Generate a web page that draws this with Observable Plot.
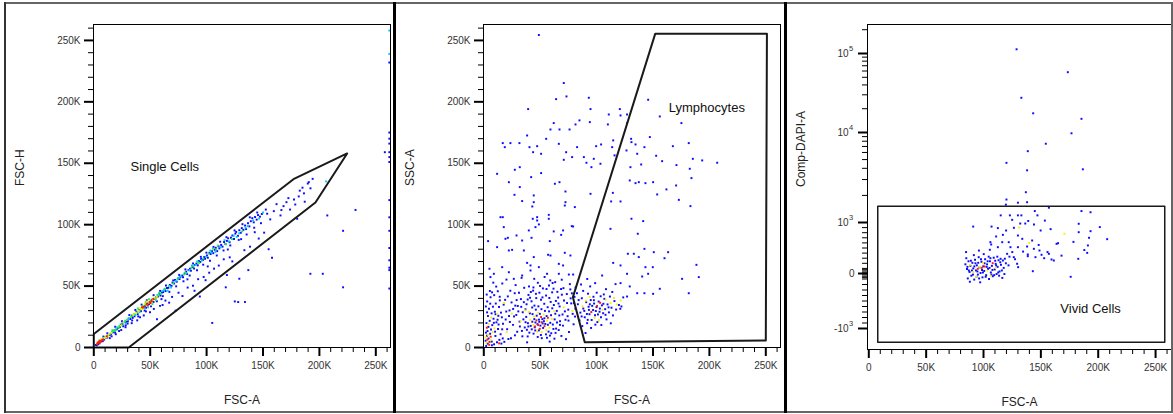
<!DOCTYPE html>
<html><head><meta charset="utf-8">
<script src="https://cdn.jsdelivr.net/npm/d3@7"></script>
<script src="https://cdn.jsdelivr.net/npm/@observablehq/plot@0.6"></script>
<style>
body{margin:0;background:#fff;}
#wrap{position:relative;width:1173px;height:414px;overflow:hidden;font-family:"Liberation Sans",Arial,sans-serif;background:#fff;}
.panel{position:absolute;top:0;width:393px;height:414px;}
.ln{position:absolute;}
</style></head><body><div id="wrap"></div>
<script>
// ---------- tick definitions ----------
const kMajor = [0, 50, 100, 150, 200, 250];
const kLabels = ["0", "50K", "100K", "150K", "200K", "250K"];
const kMinor = [10,20,30,40,60,70,80,90,110,120,130,140,160,170,180,190,210,220,230,240,260];
const dapiMajor = [-1000, 0, 1000, 10000, 100000];
const dapiBase = ["-10", "0", "10", "10", "10"];
const dapiExp = ["3", "", "3", "4", "5"];
const dapiMinor = [-900,-800,-700,-600,-500,-400,-300,-200,-100,-75,-50,-25,25,50,75,100,200,300,400,500,600,700,800,900,
  2000,3000,4000,5000,6000,7000,8000,9000,20000,30000,40000,50000,60000,70000,80000,90000,200000];

// ---------- panel 1 : FSC-A (K) vs FSC-H (K) ----------
const p1Blue = [[1.8,2.1],[2.6,1.7],[3.9,2.6],[5.1,3.4],[6.8,5.6],[7.9,5.1],[9.2,6.4],[10.4,7.9],[11.9,8.1],[12.8,9.9],[14.1,10.1],[15.2,10.9],[16.9,12.3],[18.3,13.9],[18.9,12.1],[20.4,14.8],[21.6,15.9],[23.2,16.8],[23.9,18.6],[25.4,19.1],[26.1,17.3],[27.3,20.6],[28.8,20.9],[30.2,21.4],[30.9,23.6],[32.4,23.2],[33.8,25.9],[34.5,24.1],[36.1,25.4],[37.8,29.2],[38.9,27.1],[40.1,30.4],[41.8,29.6],[42.9,32.8],[44.0,31.9],[45.2,33.8],[46.3,32.4],[47.4,36.2],[48.9,35.3],[50.0,36.4],[51.7,38.9],[52.9,37.1],[54.1,39.8],[55.3,40.9],[56.9,41.4],[58.2,43.9],[59.1,42.3],[60.4,44.8],[61.5,45.1],[62.8,47.3],[63.6,45.9],[64.9,48.4],[66.1,48.6],[67.4,50.9],[68.9,50.2],[69.8,52.8],[71.2,52.1],[72.0,54.9],[73.5,53.6],[74.9,56.3],[76.0,55.7],[76.8,57.6],[78.3,58.5],[79.1,57.2],[80.6,60.3],[81.9,61.7],[82.7,59.8],[84.0,63.1],[85.3,64.2],[86.1,62.5],[87.5,65.4],[88.9,64.3],[89.6,67.2],[91.0,68.3],[92.2,66.9],[93.1,70.4],[94.4,69.6],[95.2,72.1],[96.7,71.3],[97.9,73.6],[98.6,72.2],[100.3,74.9],[101.1,73.1],[102.5,77.1],[103.6,76.1],[104.8,78.3],[105.9,76.8],[107.2,79.6],[108.1,81.2],[109.4,78.5],[110.6,82.4],[111.3,80.7],[112.9,83.5],[114.1,82.1],[115.5,85.9],[116.7,84.2],[118.0,86.8],[119.1,88.9],[120.4,85.7],[121.6,89.4],[122.9,91.2],[124.3,88.4],[125.5,92.7],[126.2,94.1],[127.8,90.9],[129.0,95.5],[130.3,93.4],[131.2,97.2],[132.6,95.8],[134.1,99.3],[135.0,96.4],[136.7,101.1],[137.9,98.6],[139.2,102.8],[140.5,105.3],[141.8,101.9],[143.0,106.2],[144.4,104.1],[145.6,107.8],[147.3,106.5],[149.0,108.7],[153.7,108.9],[159.6,111.0],[165.5,107.5],[170.8,118.3],[174.0,112.3],[181.7,123.0],[182.6,127.7],[186.3,125.5],[187.0,118.7],[189.7,133.5],[194.0,137.3],[190.6,134.6],[177.5,120.5],[168.2,115.1],
  [8.5,8.9],[12.0,11.6],[15.8,9.1],[19.0,16.9],[22.4,13.4],[25.0,21.3],[28.3,18.1],[31.5,26.4],[34.0,22.0],[36.8,30.6],[39.4,25.3],[42.4,34.9],[45.0,30.1],[47.0,38.4],[50.7,33.5],[53.0,42.6],[55.9,37.6],[58.8,46.1],[61.2,41.8],[64.0,50.5],[67.0,45.3],[70.4,54.6],[73.0,49.8],[75.7,59.1],[79.5,53.9],[81.2,63.6],[85.0,58.6],[88.0,68.4],[91.5,62.9],[94.9,73.8],[97.0,67.4],[99.8,77.2],[103.0,70.6],[106.1,81.9],[109.0,74.9],[112.0,86.1],[115.0,79.0],[117.6,89.8],[121.0,83.1],[124.8,95.3],[128.5,87.6],[131.8,100.4],[135.5,92.0],[138.3,106.0],[142.2,97.5],[144.9,109.9],[148.2,101.2],[152.5,112.3],[156.4,104.3],[162.0,116.7],[166.3,111.9],[172.5,121.6],[178.6,116.4],[185.0,130.1],[192.1,129.6],[60.0,39.4],[83.0,55.5],[101.0,66.0],[118.8,79.8],[130.6,88.2],[142.7,93.9],[46.2,29.4],[30.0,19.5],
  [14.2,7.6],[19.5,10.8],[24.3,14.2],[28.1,16.5],[33.6,19.8],[38.5,22.1],[41.0,24.6],[44.3,26.1],[49.8,28.7],[53.2,31.4],[56.0,23.0],[58.7,33.9],[61.0,34.6],[63.5,38.2],[66.8,36.5],[69.4,41.2],[72.5,30.0],[75.1,44.6],[78.6,41.9],[83.2,48.8],[87.9,50.3],[92.5,55.6],[94.0,41.5],[97.4,57.4],[102.3,60.9],[105.0,20.0],[106.6,64.2],[110.8,66.7],[115.2,71.8],[117.0,49.0],[118.0,59.0],[120.5,73.4],[125.0,37.5],[128.0,37.0],[129.0,56.0],[133.5,79.2],[134.0,37.0],[137.0,63.0],[138.5,82.1],[146.2,88.7],[151.0,93.5],[155.0,80.0],[158.0,73.0],[180.3,104.8],[122.8,70.1],[89.3,46.2],[99.1,54.8],
  [192,60],[203,60],[207,107.5],[221,95],[221,49],[232,112],[258,159],[262,175],[262,170],[262,166],[262,159],[262,155],[262,151],[262,120],[262,106],[262,95],[262,81],[262,71],[262,65],[262,63],[262,48],[262,232]];
const p1Cyan = [[16.2,12.7],[20.8,16.4],[31.2,23.5],[36.7,26.5],[40.6,28.9],[48.1,32.7],[56.4,42.8],[62.3,46.7],[68.5,48.8],[72.6,54.1],[77.3,57.9],[84.6,62.8],[90.2,67.1],[95.8,70.9],[99.4,73.8],[104.3,77.2],[112.5,81.6],[119.8,86.4],[126.7,90.1],[136.4,98.9],[141.2,103.5],[206.0,135.2],[262,258],[262,239],
  [10.0,8.6],[25.6,20.2],[28.4,19.6],[44.9,32.3],[60.8,46.0],[65.5,46.3],[75.5,56.8],[82.2,60.4],[87.0,66.8],[91.8,70.1],[103.3,78.9],[107.8,77.8],[115.9,87.4],[124.0,90.9],[128.9,93.0],[134.5,97.6],[146.5,105.0],[150.0,109.9]];
const p1Green = [[12.3,9.8],[14.6,11.2],[17.8,13.4],[19.9,15.3],[22.7,17.6],[24.8,18.2],[29.5,22.6],[33.1,24.8],[35.6,27.2],[38.4,28.6],[41.3,30.8],[45.7,34.6],[50.5,38.2],[54.8,40.1],[57.2,42.4],[59.5,43.8],[66.8,50.1],[70.5,52.2],[74.2,55.6],[79.8,59.4],[88.4,66.2],[93.5,68.8],[97.1,72.5],[101.8,76.4],[108.6,79.9],[117.2,84.1],[122.5,88.3],[131.6,94.6],[22.1,16.1],[27.8,21.7],
  [43.0,33.9],[46.0,36.9],[49.0,39.3],[52.0,35.4],[55.0,38.6],[58.0,44.6],[34.2,26.3],[39.0,31.8],[63.0,47.9],[81.0,61.0],[86.5,64.9],[92.0,69.6],[105.5,80.5],[110.0,83.0],[5.0,5.9],[8.8,7.9],[16.5,14.1],[19.2,14.0]];
const p1Yellow = [[2.8,3.5],[9.5,7.6],[10.8,8.3],[13.2,10.5],[15.6,11.9],[39.8,29.9],[42.1,31.6],[43.7,31.0],[48.6,36.6],[52.4,38.8],[53.6,40.3],[55.8,41.2],[37.2,28.1],[26.5,20.4],
  [45.3,35.6],[50.9,35.8],[47.2,37.4],[41.0,32.2],[6.9,6.9],[12.6,9.0],[35.0,26.8],[24.0,17.9]];
const p1Red = [[3.5,4.2],[4.5,3.8],[5.5,5.1],[6.2,4.6],[7.4,6.0],[8.1,6.5],[4.8,4.9],[44.5,33.2],[46.8,35.1],[49.5,37.0],[51.2,37.8],[47.9,34.3],[11.5,9.2],
  [43.1,32.7],[50.3,36.2],[6.6,5.5],[3.0,2.9],[52.8,39.5]];
const p1Gate = [[0,11],[177,137],[224.6,158],[196.5,118],[31,0],[0,0],[0,11]];
const p1Label = [32.5, 147, "Single Cells"];

// ---------- panel 2 : FSC-A (K) vs SSC-A (K) ----------
const p2Blue = [[48.8,254.4],[70.9,215.3],[73.3,204.4],[64.1,202.2],[93.1,203.3],[94.6,194.1],[39.3,194.1],[84.8,184.9],[81.3,181.6],[94,183.5],[62,182.7],[59.1,177.5],[67.1,177.5],[76,177.5],[110.8,189.7],[120.6,194.1],[121.2,188.9],[127,189.7],[110,181.6],[127,182.7],[145.7,201.7],[156,188.1],[175.2,182.7],[147.2,171.3],[130.6,169.9],[130.9,167.2],[134.5,165.3],[136,157.7],[126.5,160.4],[142.4,163.1],[167.6,163.9],[181.7,166.4],[185.3,153.6],[193.6,152.3],[206.9,150.4],[158.1,151.7],[152.8,156.1],[170.8,148.5],[182.6,145.5],[184.1,137.9],[139.5,149],[130,146.8],[137.4,134.6],[134.5,133.8],[129.4,136],[143.3,133.8],[150.1,134.6],[170.5,131.9],[161.9,128.7],[153.7,124.6],[172.9,120.2],[183.2,115.1],[121.2,118.9],[114.4,125.9],[112.9,118.9],[112.3,96.6],[130.9,104.8],[141.3,102.9],[136.5,92.6],[142.4,80.3],[133,76.3],[127.7,76.3],[137.4,73.6],[150.7,77.6],[163.4,77.6],[160.2,72.7],[188.5,67.3],[190.6,57.3],[175.8,55.9],[181.7,44.2],[143.3,65.4],[149.8,65.4],[145.7,60],[127,60],[121.2,66.8],[114.7,68.9],[104.9,58.6],[140.4,57.8],[129.4,49.7],[121.2,52.4],[136,44.2],[142.4,44.2],[150.1,43.7],[156,47.8],[127,41.5],[122,33.4],
  [3.8,86.6],[14.8,106.1],[16.8,106.1],[17.7,98],[19.2,88.5],[21.3,89.3],[29,91.2],[22.2,79],[25.1,79.5],[39.9,95.3],[42.3,89.3],[45.8,98],[47.3,106.1],[57.6,104.8],[68.6,91.7],[78,98.8],[62,94.5],[58.5,86.6],[71.8,77.1],[76.8,74.9],[59.1,74.9],[57,75.5],[66.5,68.1],[70.3,66.8],[35.5,79],[38.4,68.9],[41.4,66.8],[44.3,73.6],[34,87.1],[11.8,81.7],[5,64.1],[5.9,57.3],[8.9,60],[16.3,65.4],[22.2,61.3],[26.6,55.9],[34,58.6],[41.4,62.7],[48.8,65.4],[56.1,60],[66.5,60],[75.4,59.4],[79.2,59.4],[11.8,141.4],[16.8,166.4],[18.6,163.1],[23.6,166.4],[31.6,166.4],[38.4,172.6],[40.5,163.1],[47.3,163.9],[43.7,159],[50.8,157.7],[55.3,169.9],[66.5,165.8],[70.9,152.8],[78.3,155],[73,159],[82.7,163.1],[67.1,134.6],[63,133.3],[50.8,142],[42,138.7],[31.9,146.8],[27.5,144.7],[22.2,134.6],[31.9,130.6],[27.2,124.3],[34,119.2],[44.3,123.8],[44.3,118.3],[43,114.8],[43.4,104.8],[48.8,100.2],[47.3,103.4],[57.6,108],[72.4,127],[72.4,118.3],[71.8,115.6],[80.7,114.3],[79.2,98.5],[70.3,95.3],[91,150.4],[88.7,155],[97.5,153.6],[94.6,125.1],[95.4,146.8],[103.4,149.6],[104,165.3],[99.6,163.9],[113.8,163.1],[114.7,168.6],[115.9,156.4],
  [2.1,1.2],[3.4,3.1],[1.6,5.5],[4.2,7.3],[2.8,9.6],[5.6,11.2],[3.3,13.4],[6.4,14.6],[4.1,16.8],[7.5,18.2],[2.4,19.9],[5.2,21.7],[8.6,23.4],[3.7,25.6],[6.9,27.8],[9.8,29.1],[4.6,31.5],[8.1,33.2],[11.2,20.5],[12.6,15.1],[10.3,9.4],[13.8,6.2],[9.1,2.6],[11.7,4.3],[14.9,10.8],[7.2,1.8],[1.9,12.1],[15.6,3.2],[16.8,7.4],[12.9,25.8],[10.6,35.8],[3.0,37.5],[6.0,40.9],[14.2,38.4],[5.4,46.0],[2.6,43.1],
  [42.5,14.8],[44.1,11.3],[45.8,20.4],[46.9,25.9],[47.6,19.0],[48.9,22.7],[49.7,27.4],[50.2,17.8],[51.9,23.1],[52.6,15.9],[53.3,21.4],[54.5,19.2],[55.7,25.6],[56.8,18.5],[57.4,12.9],[58.9,20.1],[59.6,26.3],[61.2,18.7],[62.8,22.9],[64.1,15.4],[43.2,27.2],[41.6,17.6],[40.4,12.1],[46.1,30.8],[48.4,33.5],[51.1,31.2],[54.2,29.8],[50.6,10.2],[47.8,8.6],[45.1,16.4],[49.2,20.9],[52.2,19.6],[44.8,23.1],[53.7,23.8],[57.9,29.4],[60.7,31.9],[63.4,27.5],[39.1,19.8],[37.6,24.9],[42.9,32.6],[48.8,13.9],[55.1,10.7],
  [15.2,28.4],[17.6,34.9],[19.4,22.8],[21.3,41.6],[22.8,30.2],[24.6,36.7],[25.9,18.4],[27.4,44.2],[28.8,26.5],[30.1,33.8],[31.7,21.1],[32.9,39.4],[34.5,28.7],[35.8,48.6],[36.3,16.3],[37.9,35.2],[39.6,42.8],[40.8,27.8],[42.3,37.6],[43.7,46.3],[44.9,34.1],[46.5,40.2],[47.9,52.7],[49.3,44.6],[50.7,38.9],[52.4,48.1],[53.6,35.6],[55.2,42.3],[56.6,32.8],[57.8,50.4],[59.3,37.1],[60.6,44.9],[62.1,34.6],[63.3,53.2],[64.7,29.8],[65.9,40.7],[67.2,33.4],[68.5,47.6],[69.8,26.9],[71.1,38.3],[72.4,22.6],[73.6,43.5],[74.9,30.8],[76.3,51.6],[77.5,35.9],[78.8,27.4],[79.6,18.9],[80.4,41.2],[81.2,31.6],[66.4,14.2],[70.2,17.8],[75.5,12.6],[68.8,9.4],[62.6,7.2],[58.4,4.8],[34.2,9.1],[29.6,12.8],[24.1,7.5],[20.7,14.9],[18.2,4.6],[26.8,25.3],[38.4,4.2],[72.9,6.8],[16.4,52.1],[12.4,45.8],[20.1,55.3],[28.2,50.8],[33.5,56.7],[44.7,55.9],[53.9,57.4],[61.8,47.9],[69.1,55.2],[76.7,47.3],[23.5,46.2],[11.0,49.6],[8.4,52.8],[9.2,42.6],[13.5,33.0],[18.9,38.8],[31.2,44.6],[36.9,31.1],[40.1,49.7],[67.6,21.4],[73.8,36.2],[78.1,44.1],[65.2,45.3],[58.9,54.6],[35.1,22.9],[27.9,34.1],[22.4,25.6],[17.0,19.3],[14.1,41.3],
  [7.0,4.8],[10.0,12.9],[13.1,18.7],[16.0,24.6],[19.9,29.3],[23.1,20.8],[26.0,31.4],[29.1,38.6],[32.0,17.1],[35.5,36.9],[38.2,14.4],[41.0,40.5],[44.0,48.9],[46.2,43.7],[49.9,50.1],[52.0,40.8],[55.6,47.6],[58.1,40.3],[61.0,52.5],[63.9,37.9],[66.9,26.1],[69.2,43.0],[71.9,29.4],[74.3,25.5],[77.0,40.0],[79.9,36.1],[56.0,7.9],[59.8,11.6],[63.6,11.9],[67.5,18.4],[38.9,9.0],[33.8,13.5],[27.6,9.9],[21.8,6.9],[16.3,14.8],[12.2,22.6],[8.9,20.1],[2.9,28.6],[1.8,33.4],[5.7,35.7],[7.3,44.9],[10.4,27.1],[30.6,29.4],[33.2,33.1],[38.9,39.1],[41.7,45.2],[43.0,21.0],[39.5,17.1],[37.0,20.6],[45.6,13.9],[51.4,7.6],[58.6,9.7],[61.7,15.1],[64.9,20.4],[66.2,35.8],[70.6,48.3],[75.1,21.9],[80.9,25.2],
  [83.4,35.2],[85.6,28.4],[86.9,40.1],[88.2,31.7],[89.5,24.6],[90.8,36.9],[91.6,19.8],[92.9,33.2],[93.7,27.1],[94.8,38.6],[95.6,22.4],[96.9,30.5],[97.8,35.8],[98.6,26.3],[99.9,32.9],[100.7,20.7],[101.8,37.4],[102.6,29.1],[103.9,24.6],[104.7,34.3],[105.8,27.9],[106.9,39.6],[107.6,31.2],[108.8,22.9],[109.7,35.1],[110.9,28.6],[111.8,41.5],[113.2,32.4],[114.5,26.1],[115.8,37.8],[117.3,30.9],[97.2,41.3],[100.1,44.6],[92.4,43.8],[88.1,46.1],[104.2,18.3],[95.1,15.9],[106.4,43.2],[112.6,19.7],[119.8,34.6],[121.0,31.5],[123.6,40.8],[99.3,29.7],[101.2,26.9],[96.1,33.9],[93.2,30.6],[84.8,22.1],[87.3,17.4],[90.2,11.8],[82.6,44.2],[81.4,48.9],[86.2,51.3],[94.3,49.7],[98.7,52.4],[108.3,47.5],[113.9,45.2],[116.8,51.6],[91.7,55.8],
  [84.1,38.6],[86.7,25.3],[89.1,29.8],[91.4,27.3],[98.9,18.6],[106.0,35.6],[110.6,32.7],[94.0,35.2],[97.6,38.5],[102.9,31.7],[107.9,26.6],[103.6,41.7],[92.1,22.5]];
const p2Yellow = [[2.2,3.9],[5.8,6.2],[3.6,10.3],[7.8,12.5],[4.3,19.2],[9.4,15.6],[6.6,24.4],[1.5,8.1],
  [44.6,25.3],[56.1,21.8],[51.3,12.4],[43.9,18.6],[58.2,16.2],[48.1,28.4],[53.1,26.9],[41.2,22.5],[47.3,12.8],[55.4,14.1],[39.8,29.0],[60.3,23.4],
  [90.4,38.1],[105.2,30.7],[112.4,36.2],[115.4,40.3],[98.2,24.1],[108.1,38.9],[87.6,33.6],[93.9,41.2],[102.2,22.3],[117.9,35.1],[121.4,38.3],
  [24.8,27.6],[32.6,21.3],[17.9,36.2],[36.2,30.4],[62.5,29.4],[70.8,32.7],[78.5,29.8],[20.3,12.6],[11.8,27.4]];
const p2Red = [[4.8,2.2],[3.1,6.4],[6.1,8.8],[5.0,4.5],[2.7,16.1],[48.2,18.3],[51.4,20.6],[46.7,22.1],[53.8,17.4],[49.6,15.2],[50.8,24.8],[45.5,17.1],[100.4,33.8],[95.3,28.9],[103.1,36.4],[13.6,3.4],[56.8,24.2]];
const p2Gate = [[89.5,4.3],[79,41],[152,255.5],[251,255.5],[250,5.7],[89.5,4.3]];
const p2Label = [164, 195, "Lymphocytes"];

// ---------- panel 3 : FSC-A (K) vs Comp-DAPI-A ----------
const p3Blue = [[128.8,113000],[173.5,58000],[133,27500],[143.3,17500],[185.4,14900],[176.7,9800],[154.3,7500],[138.6,6200],[186.6,3900],[120,4600],[138,3800],[136.9,2170],[120,1800],[138,1680],[130,1660],[119.5,1580],
  [157,1460],[144.7,1340],[185.4,1340],[193.3,1300],[123,1200],[130,1200],[133,1200],[115,1200],[147,1200],[125,1070],[153.5,1050],[139,1040],[91,920],[107,920],[112.5,890],[119.7,843],[126.5,896],[132,980],[136.4,980],[144,960],[149.8,843],[158.5,870],[183,810],[193.3,830],[183,975],[192,700],[191,550],[190.4,405],[182.6,288],[207.8,673],[130,745],[133.8,680],[142.4,647],[130,516],[138,529],[143.9,484],[148.8,451],[163.7,582],[165,594],[138.6,373],[138.6,339],[145.3,320],[150.6,367],[157,386],[159.3,275],[161.3,255],[143,45],[130.2,124],[129.3,190],[126.4,320],[120.6,386],[123.5,516],[122,614],[112.5,516],[111,726],[106.7,569],[105.5,465],[106,614],[116.9,758],[116.3,614],[114.9,288],[116.9,255],[176,-60],[96,450],[85,300],
  [84.2,180],[85.6,90],[86.9,240],[87.8,30],[88.6,150],[89.4,-40],[90.3,210],[91.1,100],[91.9,-110],[92.6,270],[93.4,60],[94.2,160],[95.1,-20],[95.8,320],[96.6,120],[97.4,10],[98.2,230],[99.1,-70],[99.8,140],[100.6,50],[101.4,280],[102.3,-30],[103.1,180],[103.9,90],[104.8,-100],[105.6,240],[106.4,20],[107.3,150],[108.1,-50],[108.9,310],[109.8,80],[110.6,190],[111.4,-10],[112.3,130],[113.1,260],[114.0,40],[115.2,170],[116.4,-80],[117.6,110],[88.1,-150],[91.6,360],[97.1,-160],[100.2,380],[104.5,330],[93.8,-60],[86.3,-90],[95.4,210],[98.7,70],[102.8,130],[106.9,-20],[110.2,250],[89.9,60],[113.6,-40],[84.8,420],[119.5,200],[121.8,160],
  [86.0,130],[87.2,60],[89.0,250],[90.8,-20],[92.0,140],[93.0,200],[94.7,40],[96.2,-90],[97.8,280],[99.5,20],[100.9,200],[101.9,-60],[103.6,240],[105.2,110],[106.0,300],[107.8,70],[109.3,-30],[111.0,160],[112.8,20],[114.6,220],[116.0,60],[118.6,290],[122.6,330],[125.1,420],[127.5,280],[134.5,430],[148.1,560],[152.9,300],[155.8,420],[168.0,350],[178.4,620],[187.9,460],[201.4,910],[112.0,330],[118.2,-10]];
const p3Yellow = [[88.3,170],[93.5,-60],[96.8,130],[103.4,60],[106.2,-40],[110.5,110],[91.2,30],[99.6,200],[170.5,780],[139.8,600],[131.2,900]];
const p3Red = [[95,92],[101,137],[108,202],[98.5,110]];
const p3Gate = [[7.8,1517],[258,1517],[258,-1420],[7.8,-1420],[7.8,1517]];
const p3Label = [167, -642, "Vivid Cells"];

// ---------- colours ----------
const cBlue = "#0a0aff", cCyan = "#00c8ff", cGreen = "#22ee44", cYellow = "#ffee00", cRed = "#ff1a00";

// biexponential-like display transform for Comp-DAPI-A
function T(v) {
  if (v >= 0) {
    if (v <= 1000) return v / 1000 * 51;
    if (v <= 1e4) return 51 + 90 * Math.log10(v / 1000);
    return 141 + 79 * Math.log10(v / 1e4);
  } else {
    if (v >= -1000) return v / 1000 * 55;
    return -55 - 90 * Math.log10(-v / 1000);
  }
}
const kFmt = new Map(kMajor.map((d, i) => [d, kLabels[i]]));
const dapiTicks = dapiMajor.map((v, i) => ({v, base: dapiBase[i], exp: dapiExp[i]}));

function panel(cfg) {
  const fy = cfg.fy;
  const marks = [];
  for (const [arr, col] of cfg.layers) {
    marks.push(Plot.dot(arr, {x: d => d[0], y: d => fy(d[1]), r: 1.1, symbol: "square", fill: col}));
  }
  marks.push(Plot.line(cfg.gate, {x: d => d[0], y: d => fy(d[1]), stroke: "#1a1a1a", strokeWidth: cfg.gateW}));
  marks.push(Plot.text([cfg.label], {x: d => d[0], y: d => fy(d[1]), text: d => d[2], textAnchor: "start", fontSize: 13, fill: "#111"}));
  marks.push(Plot.frame({stroke: "#000", strokeWidth: 1}));
  // x axis
  marks.push(Plot.axisX({ticks: kMinor, tickSize: 5, tickFormat: () => "", label: null, stroke: "#000", strokeWidth: 1}));
  marks.push(Plot.axisX({ticks: kMajor, tickSize: 9, tickPadding: 5, tickFormat: d => kFmt.get(d), label: null, stroke: "#000", strokeWidth: 2, fill: "#333", fontSize: 10}));
  // y axis
  marks.push(Plot.axisY({ticks: cfg.yMinor, tickSize: 5, tickFormat: () => "", label: null, stroke: "#000", strokeWidth: 1}));
  if (cfg.expTicks) {
    marks.push(Plot.axisY({ticks: cfg.yMajor, tickSize: 9, tickFormat: () => "", label: null, stroke: "#000", strokeWidth: 2}));
    marks.push(Plot.text(cfg.expTicks, {y: d => fy(d.v), frameAnchor: "left", dx: d => 0, text: d => d.exp ? d.base : "", textAnchor: "end", fontSize: 10, fill: "#333", dx: -19}));
    marks.push(Plot.text(cfg.expTicks, {y: d => fy(d.v), frameAnchor: "left", text: d => d.exp ? "" : d.base, textAnchor: "end", fontSize: 10, fill: "#333", dx: -13}));
    marks.push(Plot.text(cfg.expTicks, {y: d => fy(d.v), frameAnchor: "left", text: d => d.exp, textAnchor: "start", fontSize: 7.5, fill: "#333", dx: -18.5, dy: -5}));
  } else {
    marks.push(Plot.axisY({ticks: cfg.yMajor, tickSize: 9, tickPadding: 4, tickFormat: cfg.yFmt, label: null, stroke: "#000", strokeWidth: 2, fill: "#333", fontSize: 10}));
  }
  // axis titles
  marks.push(Plot.text(["FSC-A"], {frameAnchor: "bottom", dy: 56, fontSize: 12, fill: "#222"}));
  marks.push(Plot.text([cfg.yTitle], {frameAnchor: "left", dx: cfg.yTitleDx, rotate: -90, fontSize: 12, fill: "#222"}));
  return Plot.plot({
    width: 393, height: 414,
    marginLeft: cfg.mL, marginRight: 393 - cfg.frameR, marginTop: 24, marginBottom: 414 - cfg.frameB,
    x: {domain: [0, 262.144], range: cfg.xRange},
    y: cfg.yScale,
    style: {background: "transparent", fontFamily: "Liberation Sans, Arial, sans-serif", overflow: "visible"},
    marks
  });
}

const wrap = document.getElementById("wrap");
function place(svg, left) {
  const d = document.createElement("div");
  d.className = "panel"; d.style.left = left + "px";
  d.appendChild(svg); wrap.appendChild(d);
}
const idK = v => v;

place(panel({
  fy: idK, layers: [[p1Blue, cBlue], [p1Cyan, cCyan], [p1Green, cGreen], [p1Yellow, cYellow], [p1Red, cRed]],
  gate: p1Gate, gateW: 2, label: p1Label, yTitle: "FSC-H", yTitleDx: -73,
  mL: 93, frameR: 390, frameB: 347, xRange: [93.3, 389],
  yScale: {domain: [0, 262.144], range: [347, 25]},
  yMajor: kMajor, yMinor: kMinor, yFmt: d => kFmt.get(d)
}), 0);

place(panel({
  fy: idK, layers: [[p2Blue, cBlue], [p2Yellow, cYellow], [p2Red, cRed]],
  gate: p2Gate, gateW: 2, label: p2Label, yTitle: "SSC-A", yTitleDx: -73,
  mL: 93, frameR: 390, frameB: 347, xRange: [93.3, 389],
  yScale: {domain: [0, 262.144], range: [347, 25]},
  yMajor: kMajor, yMinor: kMinor, yFmt: d => kFmt.get(d)
}), 390);

place(panel({
  fy: T, layers: [[p3Blue, cBlue], [p3Yellow, cYellow], [p3Red, cRed]],
  gate: p3Gate, gateW: 1.5, label: p3Label, yTitle: "Comp-DAPI-A", yTitleDx: -66,
  mL: 87, frameR: 391, frameB: 349, xRange: [88.3, 389],
  yScale: {type: "linear", domain: [-76, 249], range: [349, 24]},
  yMajor: dapiMajor.map(T), yMinor: dapiMinor.map(T), expTicks: dapiTicks
}), 780);

// panel borders and separators
function line(l, t, w, h, c) {
  const d = document.createElement("div");
  d.className = "ln";
  Object.assign(d.style, {left: l + "px", top: t + "px", width: w + "px", height: h + "px", background: c});
  wrap.appendChild(d);
}
line(4, 2, 1169, 2, "#666");
line(4, 411, 1169, 2, "#666");
line(4, 2, 2, 411, "#333");
line(1171, 2, 2, 411, "#666");
line(393, 2, 3, 411, "#000");
line(784, 2, 3, 411, "#000");
</script></body></html>
